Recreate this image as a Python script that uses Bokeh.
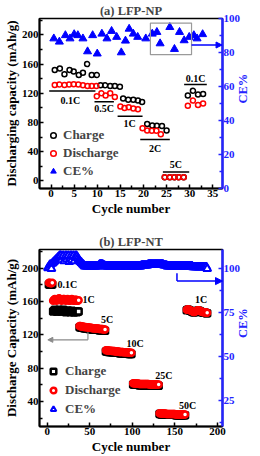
from math import pi
from bokeh.plotting import figure
from bokeh.models import (Range1d, LinearAxis, FixedTicker, Legend, LegendItem,
                          Arrow, NormalHead, BoxAnnotation)
from bokeh.layouts import column
from bokeh.core.properties import value
from bokeh.embed import file_html
from bokeh.resources import INLINE

FONT = "Liberation Serif"
BLUE = "#0000ff"
AXBLUE = "#2424ff"
RED = "#ff0000"
GRAY = "#8a8a8a"

# ---------------- panel (a) LFP-NP ----------------
a_charge_cycle = [0.8, 1.9, 2.9, 4.0, 4.9, 6.0, 6.9, 7.8, 8.8, 9.9,
                  10.7, 11.7, 12.8, 13.8, 14.9,
                  15.6, 16.7, 17.8, 18.8, 19.7,
                  20.8, 21.9, 22.9, 24.0, 25.0,
                  24.6, 25.7, 26.7, 27.6, 28.7,
                  29.6, 30.7, 31.8, 32.9]
a_charge = [152, 154, 146, 152, 150, 145, 148, 160, 145, 145,
            131, 131, 130, 130, 129,
            113, 111, 111, 110, 108,
            78, 76, 75.5, 75, 69,
            5, 5, 5, 5, 5,
            117, 123.5, 118.5, 119]
a_dis_cycle = [0.8, 1.8, 2.9, 3.9, 4.9, 5.9, 6.9, 7.9, 8.8, 9.8,
               9.9, 10.9, 11.8, 12.8, 13.8,
               15.0, 15.9, 16.8, 17.8, 18.8,
               19.8, 20.8, 21.8, 22.8, 23.75,
               24.6, 25.7, 26.7, 27.6, 28.7,
               29.6, 30.7, 31.8, 32.9]
a_dis = [131.5, 132, 131.5, 132, 132.5, 132, 131, 130, 130, 130,
         116, 120, 117, 120, 115,
         102, 100, 101, 99, 98,
         72, 69, 68.5, 68.5, 64,
         5, 5, 5, 5, 5,
         103, 110, 104, 106]
a_ce_cycle = [0.6, 1.8, 3.1, 4.1, 5.0, 5.8, 6.9, 7.9, 9.0, 10.0, 11.0, 12.1, 13.1, 14.2,
              15.2, 16.1, 16.9, 17.8, 18.75, 20.5, 21.9, 22.9, 23.6, 25.7, 26.7, 27.8,
              28.8, 29.9, 30.9, 31.6, 32.8]
a_ce = [88.2, 86.3, 90.1, 88.2, 90.7, 90.1, 88.2, 80.6, 90.1, 79.3, 91.0, 88.2, 92.6, 89.1,
        80.0, 86.9, 93.9, 91.0, 89.1, 88.2, 91.0, 92.0, 85.3, 94.9, 82.0, 92.0,
        87.1, 89.1, 90.1, 88.2, 90.7]
a_rate_text = ["0.1C", "0.5C", "1C", "2C", "5C", "0.1C"]
a_rate_x = [4.2, 11.5, 17.0, 22.5, 27.0, 31.3]
a_rate_y = [110, 99, 79, 44, 22, 140]
a_line_x0 = [-0.4, 9.4, 14.4, 19.3, 24.2, 28.8]
a_line_x1 = [9.6, 13.6, 19.8, 25.7, 29.9, 33.7]
a_line_y = [123, 108.5, 88.5, 56.5, 12, 132]
a_box = dict(left=21.5, right=30.4, bottom=78.7, top=97.3)
a_arrow = dict(x_start=30.4, y_start=84.4, x_end=37.0, y_end=84.4)
a_xticks = [0, 5, 10, 15, 20, 25, 30, 35]
a_xminor = [2.5, 7.5, 12.5, 17.5, 22.5, 27.5, 32.5]
a_yticks = [0, 40, 80, 120, 160, 200]
a_yminor = [20, 60, 100, 140, 180, 220]
a_ceticks = [0, 20, 40, 60, 80, 100]
a_ceminor = [10, 30, 50, 70, 90]

# ---------------- panel (b) LFP-NT ----------------
seg_cycles = [list(range(2, 7)), list(range(7, 38)), list(range(38, 69)),
              list(range(69, 100)), list(range(101, 132)), list(range(132, 163)),
              list(range(164, 189))]
seg_dis = [
    [182.5, 182.5, 182, 182, 182.5],
    [161, 162, 163, 162, 161, 162, 163, 164, 163, 162, 161, 162, 163, 163, 162, 161,
     162, 163, 162, 161, 161, 162, 163, 162, 161, 161, 162, 162, 161, 161, 161.5],
    [130.5, 130.5, 130, 130, 130, 129.5, 129.5, 129.5, 129, 129, 129, 128.5, 128.5, 128.5,
     128.5, 128, 128, 128, 128, 127.5, 127.5, 127.5, 127.5, 127, 127, 127, 127, 127,
     126.5, 126.5, 126.5],
    [101.5, 101.5, 101.5, 101, 101, 101, 101, 100.5, 100.5, 100.5, 100.5, 100, 100, 100,
     100, 100, 99.5, 99.5, 99.5, 99.5, 99.5, 99, 99, 99, 99, 99, 99, 98.5, 98.5, 98.5, 98.5],
    [62, 62, 61.5, 61.5, 61.5, 61.5, 61.5, 61, 61, 61, 61, 61, 61, 61, 61, 61, 61, 61, 61,
     60.5, 60.5, 60.5, 60.5, 60.5, 60.5, 60.5, 60.5, 60.5, 60.5, 60.5, 60.5],
    [26, 26, 25.5, 25.5, 25.5, 25.5, 25.5, 25.5, 25, 25, 25, 25, 25, 25, 25, 25, 25, 25, 25,
     24.5, 24.5, 24.5, 24.5, 24.5, 24.5, 24.5, 24.5, 24.5, 24.5, 24.5, 24.5],
    [150, 150.5, 150.5, 150, 149.5, 149, 148.5, 148, 147.5, 147.5, 148, 148.5, 149, 149.5,
     149.5, 149, 148.5, 148, 147.5, 147.5, 147, 147, 147, 146.5, 146.5],
]
seg_ch = [
    [180.5, 180, 180, 180, 180.5],
    [148, 149, 150, 149, 148, 148, 149, 150, 149, 148, 148, 149, 150, 149, 148, 147,
     148, 149, 149, 148, 147, 148, 149, 148, 147, 147, 148, 148, 147, 148, 148],
    [129, 129, 128.5, 128.5, 128.5, 128, 128, 128, 127.5, 127.5, 127.5, 127, 127, 127, 127,
     126.5, 126.5, 126.5, 126.5, 126, 126, 126, 126, 125.5, 125.5, 125.5, 125.5, 125.5,
     125, 125, 125],
    [100, 100, 100, 99.5, 99.5, 99.5, 99.5, 99, 99, 99, 99, 98.5, 98.5, 98.5, 98.5, 98.5,
     98, 98, 98, 98, 98, 97.5, 97.5, 97.5, 97.5, 97.5, 97.5, 97, 97, 97, 97],
    [60.5, 60.5, 60, 60, 60, 60, 60, 59.5, 59.5, 59.5, 59.5, 59.5, 59.5, 59.5, 59.5, 59.5,
     59.5, 59.5, 59.5, 59, 59, 59, 59, 59, 59, 59, 59, 59, 59, 59, 59],
    [25, 25, 24.5, 24.5, 24.5, 24.5, 24.5, 24.5, 24, 24, 24, 24, 24, 24, 24, 24, 24, 24, 24,
     23.5, 23.5, 23.5, 23.5, 23.5, 23.5, 23.5, 23.5, 23.5, 23.5, 23.5, 23.5],
    [149.5, 150, 150, 149.5, 149, 148.5, 148, 147.5, 147, 147, 147.5, 148, 148.5, 149,
     149, 148.5, 148, 147.5, 147, 147, 146.5, 146.5, 146.5, 146, 146],
]
b_cycle = [c for s in seg_cycles for c in s]
b_dis = [v for s in seg_dis for v in s]
b_ch = [v for s in seg_ch for v in s]

b_ce_cycle = list(range(1, 189))
b_ce = [
    100.5, 101, 102, 102.5, 100,                                      # 1-5
    103, 103.5, 104, 104.5, 105, 105.5, 106, 106.5, 107, 107.5,       # 6-15
    107.5, 105, 107, 107.5, 104.5, 106.5, 107.5, 105.5, 107, 107.5,   # 16-25
    104, 106, 107.5, 105, 107, 107.5, 104.5, 106.5, 107.5, 107,       # 26-35
    106, 105, 104.5, 104, 103.5, 103, 102.5, 102, 101.5,              # 36-44
    101.5, 101.5, 101.5, 101.5, 101.5, 101.5, 101.5, 101.5, 101.5, 101.5,   # 45-54
    101.5, 101.5, 101.5, 101.5, 101.5, 101.5, 102, 102.5, 102.5, 102.5,     # 55-64
    102.5, 102, 102, 101.5, 101.5, 101.5, 101.5, 101.5, 101.5, 101.5,       # 65-74
    101.5, 101.5, 101.5, 101.5, 101.5, 101.5, 101.5, 101.5, 101.5, 101.5,   # 75-84
    101.5, 101.5, 101.5, 101.5, 101.5, 101.5, 101.5, 101.5, 101.5, 101.5,   # 85-94
    101.5, 101.5, 101.5, 101.5, 101.5, 101.5, 101.5, 101.5, 101.5, 101.5,   # 95-104
    101.5, 101.5, 101.5, 101.5, 101.5, 101.5, 102, 102, 102, 102,           # 105-114
    102, 102, 102, 102, 102.5, 102.5, 102.5, 102.5, 102.5, 102.5,           # 115-124
    102.5, 102.5, 102.5, 102.5, 102.5, 102.5, 102.5, 102.5, 102.5, 102.5,   # 125-134
    102.5, 102.5, 102, 102, 102, 102, 101.5, 101.5, 101.5, 101.5,           # 135-144
    101.5, 101.5, 101.5, 101.5, 101.5, 101.5, 101.5, 101.5, 101.5, 101.5,   # 145-154
    101.5, 101.5, 101.5, 101.5, 101.5, 101.5, 101.5, 101.5, 101.5, 101.5,   # 155-164
    101.5, 101.5, 101.5, 101.5, 101.5, 101.5, 101, 101, 101, 101,           # 165-174
    101, 101, 101, 101, 101, 101, 101, 101, 101, 101,                       # 175-184
    101, 101, 101,                                                          # 185-187
    100,                                                                    # 188
]
b_rate_text = ["0.1C", "1C", "5C", "10C", "25C", "50C", "1C"]
b_rate_x = [23.8, 48.7, 70.5, 103.3, 137, 165, 181]
b_rate_y = [181, 162, 138, 110, 71, 35, 162]
b_left_path_x = [47.9, 47.9]
b_left_path_y = [123.2, 114]
b_left_arrow = dict(x_start=47.9, y_start=114, x_end=0.8, y_end=114)
b_right_path_x = [152.5, 152.5]
b_right_path_y = [97.5, 93]
b_right_arrow = dict(x_start=152.5, y_start=93, x_end=206, y_end=93)
b_xticks = [0, 50, 100, 150, 200]
b_xminor = [25, 75, 125, 175]
b_yticks = [40, 80, 120, 160, 200]
b_yminor = [20, 60, 100, 140, 180, 220]
b_ceticks = [25, 50, 75, 100]
b_ceminor = [12.5, 37.5, 62.5, 87.5]


def style_axis(ax, color="black", lw=2):
    ax.axis_line_color = color
    ax.axis_line_width = lw
    ax.major_tick_line_color = color
    ax.minor_tick_line_color = color
    ax.major_tick_line_width = 1.5
    ax.minor_tick_line_width = 1.5
    ax.major_tick_in = 4
    ax.major_tick_out = 0
    ax.minor_tick_in = 3
    ax.minor_tick_out = 0
    ax.major_label_text_font = FONT
    ax.major_label_text_font_style = "bold"
    ax.major_label_text_font_size = "11px"
    ax.major_label_text_color = color
    ax.major_label_standoff = 1
    ax.axis_label_text_font = FONT
    ax.axis_label_text_font_style = "bold"
    ax.axis_label_text_font_size = "13px"
    ax.axis_label_text_color = color
    ax.axis_label_standoff = 0


def make_fig(height, top, bottom, xr, yr, cer, ylabel, xt, xm, yt, ym, ct, cm, title):
    p = figure(width=260, height=height, x_range=Range1d(*xr), y_range=Range1d(*yr),
               output_backend="svg", toolbar_location=None,
               min_border_left=30, min_border_right=26, min_border_top=top,
               min_border_bottom=bottom)
    p.title.text = title
    p.title.align = "center"
    p.title.text_font = FONT
    p.title.text_font_style = "bold"
    p.title.text_font_size = "12.5px"
    p.title.standoff = 2
    p.grid.visible = False
    p.outline_line_color = "black"
    p.outline_line_width = 1.5
    p.xaxis.axis_label = "Cycle number"
    p.yaxis.axis_label = ylabel
    p.xaxis.ticker = FixedTicker(ticks=xt, minor_ticks=xm)
    p.yaxis.ticker = FixedTicker(ticks=yt, minor_ticks=ym)
    style_axis(p.xaxis[0])
    style_axis(p.yaxis[0])
    p.xaxis[0].axis_label_standoff = 1
    p.extra_y_ranges = {"ce": Range1d(*cer)}
    rax = LinearAxis(y_range_name="ce", ticker=FixedTicker(ticks=ct, minor_ticks=cm),
                     axis_label="CE%")
    style_axis(rax, AXBLUE, 2.5)
    rax.axis_label_text_font_size = "12.5px"
    rax.axis_label_orientation = pi / 2
    p.add_layout(rax, "right")
    return p


# ---------- figure (a)
p1 = make_fig(228, 13, 40, (-2.5, 37.1), (-10.5, 222.5), (0, 100),
              "Discharging capacity (mAh/g)", a_xticks, a_xminor, a_yticks, a_yminor,
              a_ceticks, a_ceminor, "(a) LFP-NP")
r1c = p1.scatter(a_charge_cycle, a_charge, marker="circle", size=5, fill_color=None,
                 line_color="black", line_width=1.5)
r1d = p1.scatter(a_dis_cycle, a_dis, marker="circle", size=5, fill_color=None,
                 line_color=RED, line_width=1.5)
r1e = p1.scatter(a_ce_cycle, a_ce, marker="triangle", size=8, fill_color=BLUE,
                 line_color=BLUE, y_range_name="ce")
p1.segment(x0=a_line_x0, y0=a_line_y, x1=a_line_x1, y1=a_line_y, line_color="black",
           line_width=1.5)
p1.text(x=a_rate_x, y=a_rate_y, text=a_rate_text, text_font=value(FONT),
        text_font_style="bold", text_font_size="10px", text_align="center",
        text_baseline="middle")
p1.add_layout(BoxAnnotation(y_range_name="ce", fill_alpha=0, line_color="#9a9a9a",
                            line_width=1.2, line_alpha=1, **a_box))
p1.add_layout(Arrow(end=NormalHead(size=6, fill_color=BLUE, line_color=BLUE),
                    y_range_name="ce", line_color=BLUE, line_width=1.5, **a_arrow))
leg1 = Legend(items=[LegendItem(label="Charge", renderers=[r1c]),
                     LegendItem(label="Discharge", renderers=[r1d]),
                     LegendItem(label="CE%", renderers=[r1e])],
              location=(7, 9), glyph_width=14, glyph_height=14, label_height=14,
              spacing=2, padding=0, margin=0, label_standoff=3,
              background_fill_alpha=0, border_line_alpha=0, label_text_font=FONT,
              label_text_font_style="bold", label_text_font_size="13px")
p1.add_layout(leg1)

# ---------- figure (b)
p2 = make_fig(228, 21, 30, (-9, 206), (10, 222.4), (10.2, 111),
              "Discharge Capacity (mAh/g)", b_xticks, b_xminor, b_yticks, b_yminor,
              b_ceticks, b_ceminor, "(b) LFP-NT")
r2c = p2.scatter(b_cycle, b_ch, marker="square", size=6, fill_color="white",
                 line_color="black", line_width=2.5)
r2d = p2.scatter(b_cycle, b_dis, marker="circle", size=6, fill_color="white",
                 line_color=RED, line_width=2.5)
r2e = p2.scatter(b_ce_cycle, b_ce, marker="triangle", size=8, fill_color="white",
                 line_color=BLUE, line_width=2, y_range_name="ce")
p2.text(x=b_rate_x, y=b_rate_y, text=b_rate_text, text_font=value(FONT),
        text_font_style="bold", text_font_size="10px", text_align="center",
        text_baseline="middle")
p2.line(b_left_path_x, b_left_path_y, line_color=GRAY, line_width=1.2)
p2.add_layout(Arrow(end=NormalHead(size=5, fill_color=GRAY, line_color=GRAY),
                    line_color=GRAY, line_width=1.2, **b_left_arrow))
p2.line(b_right_path_x, b_right_path_y, line_color=BLUE, line_width=1.5, y_range_name="ce")
p2.add_layout(Arrow(end=NormalHead(size=7, fill_color=BLUE, line_color=BLUE),
                    y_range_name="ce", line_color=BLUE, line_width=1.5, **b_right_arrow))
leg2 = Legend(items=[LegendItem(label="Charge", renderers=[r2c]),
                     LegendItem(label="Discharge", renderers=[r2d]),
                     LegendItem(label="CE%", renderers=[r2e])],
              location=(7, 9), glyph_width=14, glyph_height=14, label_height=14,
              spacing=3, padding=0, margin=0, label_standoff=5,
              background_fill_alpha=0, border_line_alpha=0, label_text_font=FONT,
              label_text_font_style="bold", label_text_font_size="13px")
p2.add_layout(leg2)

layout = column(p1, p2)
open("out.html", "w").write(file_html(layout, INLINE))
